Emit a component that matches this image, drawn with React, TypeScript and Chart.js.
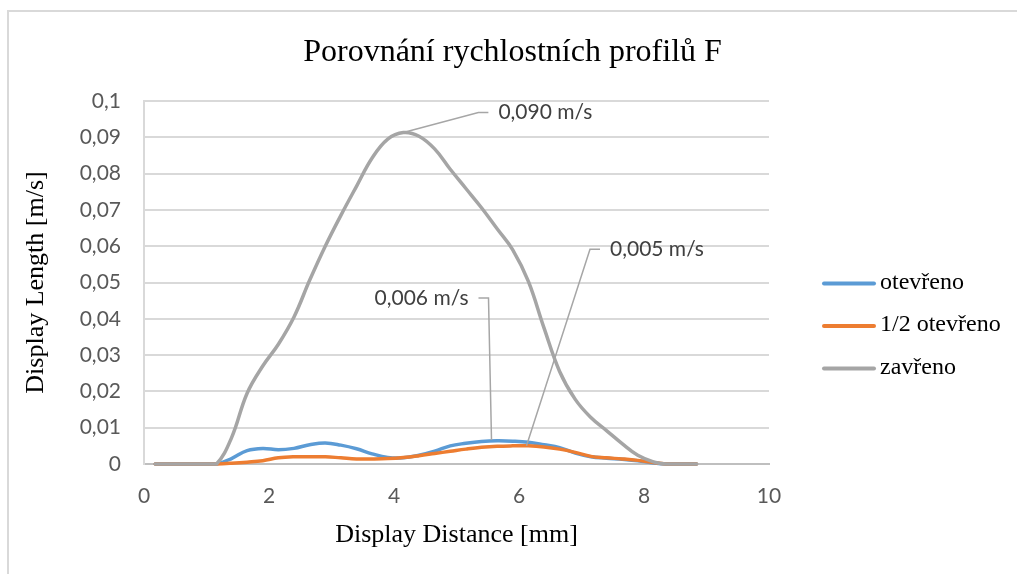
import React, { useEffect, useRef } from 'react';
import { Chart, registerables } from 'chart.js';

Chart.register(...registerables);

// ---------- data ----------
const TITLE = 'Porovnání rychlostních profilů F';
const X_TITLE = 'Display Distance [mm]';
const Y_TITLE = 'Display Length [m/s]';

const SERIES_NAMES = ['otevřeno', '1/2 otevřeno', 'zavřeno'];
const SERIES_COLORS = ['#5B9BD5', '#ED7D31', '#A5A5A5'];

const distance = [0.18, 0.5, 0.74, 1.0, 1.16, 1.4, 1.65, 1.9, 2.15, 2.4, 2.65, 2.9, 3.15, 3.4, 3.65, 3.9, 4.15, 4.4, 4.65, 4.9, 5.15, 5.4, 5.65, 5.9, 6.15, 6.4, 6.65, 6.9, 7.15, 7.4, 7.65, 7.9, 8.15, 8.35, 8.6, 8.84];

const otevreno = [0, 0, 0, 0, 0, 0.0015, 0.0037, 0.0043, 0.0039, 0.0043, 0.0053, 0.0058, 0.0052, 0.0042, 0.0028, 0.0018, 0.0017, 0.0024, 0.0035, 0.005, 0.0057, 0.0062, 0.0064, 0.0063, 0.006, 0.0053, 0.0045, 0.003, 0.002, 0.0016, 0.0013, 0.0009, 0.0003, 0, 0, 0];

const polovinaOtevreno = [0, 0, 0, 0, 0, 0.0002, 0.0005, 0.0009, 0.0017, 0.002, 0.002, 0.002, 0.0017, 0.0014, 0.0014, 0.0015, 0.0018, 0.0023, 0.0029, 0.0035, 0.0041, 0.0046, 0.0049, 0.005, 0.005, 0.0047, 0.0041, 0.0032, 0.0021, 0.0017, 0.0014, 0.001, 0.0004, 0, 0, 0];

const zavreno = [0, 0, 0, 0, 0, 0.0072, 0.0195, 0.027, 0.033, 0.0405, 0.0506, 0.06, 0.0685, 0.0765, 0.0843, 0.0895, 0.0913, 0.0903, 0.0868, 0.0812, 0.0759, 0.0706, 0.0648, 0.059, 0.0503, 0.0375, 0.0255, 0.0178, 0.0128, 0.0092, 0.0056, 0.0024, 0.0006, 0, 0, 0];

const X_MIN = 0;
const X_MAX = 10;
const X_STEP = 2;
const Y_MIN = 0;
const Y_MAX = 0.1;
const Y_STEP = 0.01;

// data labels (callouts)
const ANNOT_X = [4.15, 5.56, 6.12];
const ANNOT_Y = [0.0913, 0.0066, 0.005];
const ANNOT_TEXT = ['0,090 m/s', '0,006 m/s', '0,005 m/s'];

// ---------- layout / style ----------
const SERIF = "'Liberation Serif', 'Times New Roman', serif";
const SANS = "Lato, 'Open Sans', sans-serif";
const ANNOT_LAYOUT = [
  { dx: 75, dy: -20, side: 'right' },
  { dx: -3, dy: -142, side: 'left' },
  { dx: 63.5, dy: -196.5, side: 'right' },
];
const LEGEND_LINE_X = 822;
const LEGEND_LINE_W = 54;
const LEGEND_TEXT_X = 880;
const LEGEND_Y0 = 283.5;
const LEGEND_STEP = 42.5;

const fmtTick = (v: number) => String(parseFloat(Number(v).toFixed(3))).replace('.', ',');

const overlayPlugin = {
  id: 'overlay',
  afterDatasetsDraw(chart: any) {
    const { ctx } = chart;
    const x = chart.scales.x;
    const y = chart.scales.y;
    ctx.save();
    ANNOT_TEXT.forEach((t, i) => {
      const px = x.getPixelForValue(ANNOT_X[i]);
      const py = y.getPixelForValue(ANNOT_Y[i]);
      const L = ANNOT_LAYOUT[i];
      const ex = px + L.dx;
      const ey = py + L.dy;
      const dir = L.side === 'right' ? 1 : -1;
      ctx.strokeStyle = '#A6A6A6';
      ctx.lineWidth = 1.5;
      ctx.beginPath();
      ctx.moveTo(px, py);
      ctx.lineTo(ex, ey);
      ctx.lineTo(ex + dir * 10, ey);
      ctx.stroke();
      ctx.font = `21px ${SANS}`;
      ctx.fillStyle = '#404040';
      ctx.textBaseline = 'middle';
      ctx.textAlign = dir > 0 ? 'left' : 'right';
      ctx.fillText(t, ex + dir * 20, ey);
    });
    ctx.restore();
  },
  afterDraw(chart: any) {
    const { ctx } = chart;
    ctx.save();
    chart.data.datasets.forEach((ds: any, i: number) => {
      const yy = LEGEND_Y0 + i * LEGEND_STEP;
      ctx.strokeStyle = ds.borderColor;
      ctx.lineWidth = 4;
      ctx.lineCap = 'round';
      ctx.beginPath();
      ctx.moveTo(LEGEND_LINE_X + 2, yy);
      ctx.lineTo(LEGEND_LINE_X + LEGEND_LINE_W - 2, yy);
      ctx.stroke();
      ctx.font = `24px ${SERIF}`;
      ctx.fillStyle = '#000';
      ctx.textAlign = 'left';
      ctx.textBaseline = 'middle';
      ctx.fillText(ds.label, LEGEND_TEXT_X, yy - 1);
    });
    ctx.restore();
  },
};

export default function App() {
  const ref = useRef<HTMLCanvasElement | null>(null);

  useEffect(() => {
    if (!ref.current) return;
    const seriesValues = [otevreno, polovinaOtevreno, zavreno];
    const orders = [3, 2, 1];
    const chart = new Chart(ref.current, {
      type: 'line',
      data: {
        datasets: seriesValues.map((vals, i) => ({
          label: SERIES_NAMES[i],
          data: distance.map((d, j) => ({ x: d, y: vals[j] })),
          borderColor: SERIES_COLORS[i],
          backgroundColor: SERIES_COLORS[i],
          borderWidth: 3.5,
          pointRadius: 0,
          pointHoverRadius: 0,
          tension: 0.4,
          clip: false as any,
          order: orders[i],
          borderCapStyle: 'round',
          borderJoinStyle: 'round',
          xAxisID: 'x',
          yAxisID: 'y',
        })),
      },
      options: {
        responsive: true,
        maintainAspectRatio: false,
        animation: false,
        events: [],
        layout: { padding: { left: 8, right: 0, top: 0, bottom: 0 } },
        plugins: {
          legend: { display: false },
          tooltip: { enabled: false },
          title: {
            display: true,
            text: TITLE,
            color: '#000',
            font: { family: SERIF, size: 32, weight: 'normal' },
            padding: { top: 33, bottom: 29.6 },
          },
        },
        scales: {
          x: {
            type: 'linear',
            position: 'bottom',
            min: X_MIN,
            max: X_MAX,
            grid: { display: false },
            border: { display: true, color: '#BFBFBF', width: 2 },
            ticks: {
              stepSize: X_STEP,
              color: '#595959',
              font: { family: SANS, size: 21 },
              padding: 12,
              maxRotation: 0,
            },
            title: {
              display: true,
              text: X_TITLE,
              color: '#000',
              font: { family: SERIF, size: 26 },
              padding: { top: 0, bottom: 23.4 },
            },
            afterFit: (s: any) => {
              s.height = 110;
            },
          },
          y: {
            type: 'linear',
            position: 'left',
            min: Y_MIN,
            max: Y_MAX,
            grid: { color: '#D9D9D9', lineWidth: 2, drawTicks: false },
            border: { display: true, color: '#D9D9D9', width: 2 },
            ticks: {
              stepSize: Y_STEP,
              color: '#595959',
              font: { family: SANS, size: 21 },
              padding: 23,
              callback: (v: any) => fmtTick(v),
            },
            title: {
              display: true,
              text: Y_TITLE,
              color: '#000',
              font: { family: SERIF, size: 26 },
              padding: { top: 13, bottom: 0 },
            },
            afterFit: (s: any) => {
              s.width = 136;
            },
          },
          legendSpace: {
            type: 'linear',
            position: 'right',
            display: true,
            grid: { display: false },
            border: { display: false },
            ticks: { display: false },
            afterFit: (s: any) => {
              s.width = 248;
            },
          },
        },
      } as any,
      plugins: [overlayPlugin],
    });
    return () => chart.destroy();
  }, []);

  return (
    <div style={{ position: 'fixed', left: 0, top: 0, width: 1017, height: 574, background: '#fff', overflow: 'hidden' }}>
      <div
        style={{
          position: 'absolute',
          left: 7,
          top: 10,
          right: -10,
          bottom: -10,
          borderLeft: '2px solid #D9D9D9',
          borderTop: '2px solid #D9D9D9',
        }}
      />
      <div style={{ position: 'absolute', left: 0, top: 0, width: 1017, height: 574 }}>
        <canvas ref={ref} />
      </div>
    </div>
  );
}
